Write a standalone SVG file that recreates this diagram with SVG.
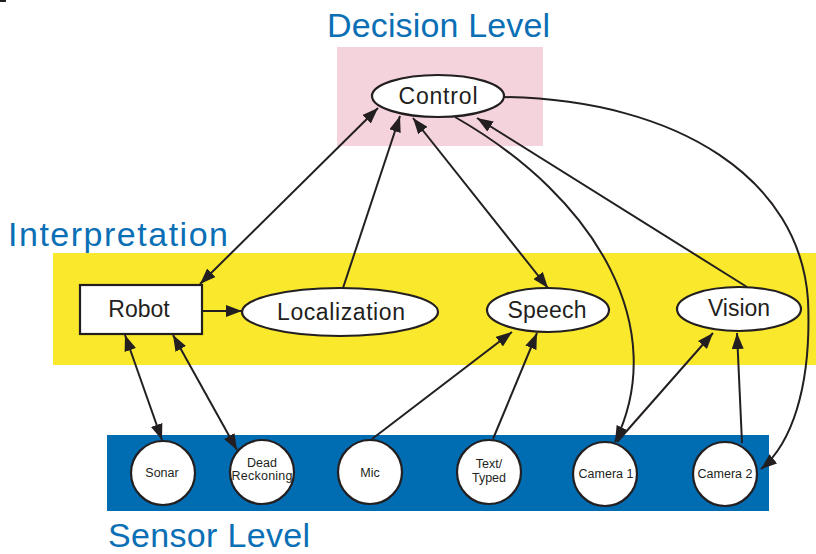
<svg xmlns="http://www.w3.org/2000/svg" width="816" height="554" viewBox="0 0 816 554">
<style>
text{font-family:"Liberation Sans",Arial,sans-serif;fill:#231f20;text-anchor:middle}
.lvl{fill:#0a6fb5;font-size:34px;text-anchor:start}
.big{font-size:23px}
.sm{font-size:12.5px}
.node{fill:#fff;stroke:#231f20;stroke-width:2.2}
.c{fill:none;stroke:#231f20;stroke-width:2}
</style>
<defs>
<marker id="ah" viewBox="0 0 16 12" refX="16" refY="6" markerWidth="16" markerHeight="12" markerUnits="userSpaceOnUse" orient="auto-start-reverse">
<path d="M0,0 L16,6 L0,12 z" fill="#231f20"/>
</marker>
</defs>
<rect x="0" y="0" width="6" height="2" fill="#231f20"/>
<g id="bands">
<rect x="337" y="47" width="206" height="99" fill="#f4d3dc"/>
<rect x="53" y="253" width="763" height="112" fill="#f9e82c"/>
<rect x="107" y="435" width="662" height="76" fill="#006db3"/>
</g>
<g id="labels">
<text class="lvl" x="327" y="37" textLength="223">Decision Level</text>
<text class="lvl" x="8" y="246" textLength="220">Interpretation</text>
<text class="lvl" x="108" y="547" textLength="202">Sensor Level</text>
</g>
<g id="connectors">
<path class="c" d="M200,284 L378,108" marker-start="url(#ah)" marker-end="url(#ah)"/>
<path class="c" d="M343,288 L400,116" marker-end="url(#ah)"/>
<path class="c" d="M413,118 L548,288" marker-start="url(#ah)" marker-end="url(#ah)"/>
<path class="c" d="M455,117 C600,200 670,330 615,442" marker-end="url(#ah)"/>
<path class="c" d="M747,287 L477,118" marker-end="url(#ah)"/>
<path class="c" d="M504,97 C680,100 800,180 808,300 C812,390 790,445 761,469" marker-end="url(#ah)"/>
<path class="c" d="M617,442 L713,333" marker-end="url(#ah)"/>
<path class="c" d="M742,443 L737,333" marker-end="url(#ah)"/>
<path class="c" d="M202,311 L242,311" marker-end="url(#ah)"/>
<path class="c" d="M125,335 L162,440" marker-start="url(#ah)" marker-end="url(#ah)"/>
<path class="c" d="M173,335 L237,450" marker-start="url(#ah)" marker-end="url(#ah)"/>
<path class="c" d="M372,439 L512,332" marker-end="url(#ah)"/>
<path class="c" d="M493,439 L537,333" marker-end="url(#ah)"/>
</g>
<g id="control">
<ellipse class="node" cx="438" cy="96" rx="66" ry="21"/>
<text class="big" x="438" y="104" textLength="79">Control</text>
</g>
<g id="robot">
<rect class="node" x="80" y="285" width="122" height="49"/>
<text class="big" x="139" y="317">Robot</text>
</g>
<g id="localization">
<ellipse class="node" cx="340" cy="312" rx="98" ry="24"/>
<text class="big" x="341" y="320" textLength="128">Localization</text>
</g>
<g id="speech">
<ellipse class="node" cx="548" cy="310" rx="61" ry="22"/>
<text class="big" x="547" y="318" textLength="79">Speech</text>
</g>
<g id="vision">
<ellipse class="node" cx="739" cy="309" rx="62" ry="22"/>
<text class="big" x="739" y="316">Vision</text>
</g>
<g id="sonar">
<circle class="node" cx="163" cy="473" r="32"/>
<text class="sm" x="162" y="477">Sonar</text>
</g>
<g id="deadreckoning">
<circle class="node" cx="262" cy="472" r="32"/>
<text class="sm" x="262" y="467">Dead</text>
<text class="sm" x="262" y="480" textLength="61">Reckoning</text>
</g>
<g id="mic">
<circle class="node" cx="370" cy="472" r="32"/>
<text class="sm" x="370" y="477">Mic</text>
</g>
<g id="text">
<circle class="node" cx="489" cy="472" r="32"/>
<text class="sm" x="489" y="468">Text/</text>
<text class="sm" x="489" y="482">Typed</text>
</g>
<g id="camera1">
<circle class="node" cx="605" cy="474" r="32"/>
<text class="sm" x="606" y="478">Camera 1</text>
</g>
<g id="camera2">
<circle class="node" cx="725" cy="474" r="32"/>
<text class="sm" x="725" y="478">Camera 2</text>
</g>
</svg>
